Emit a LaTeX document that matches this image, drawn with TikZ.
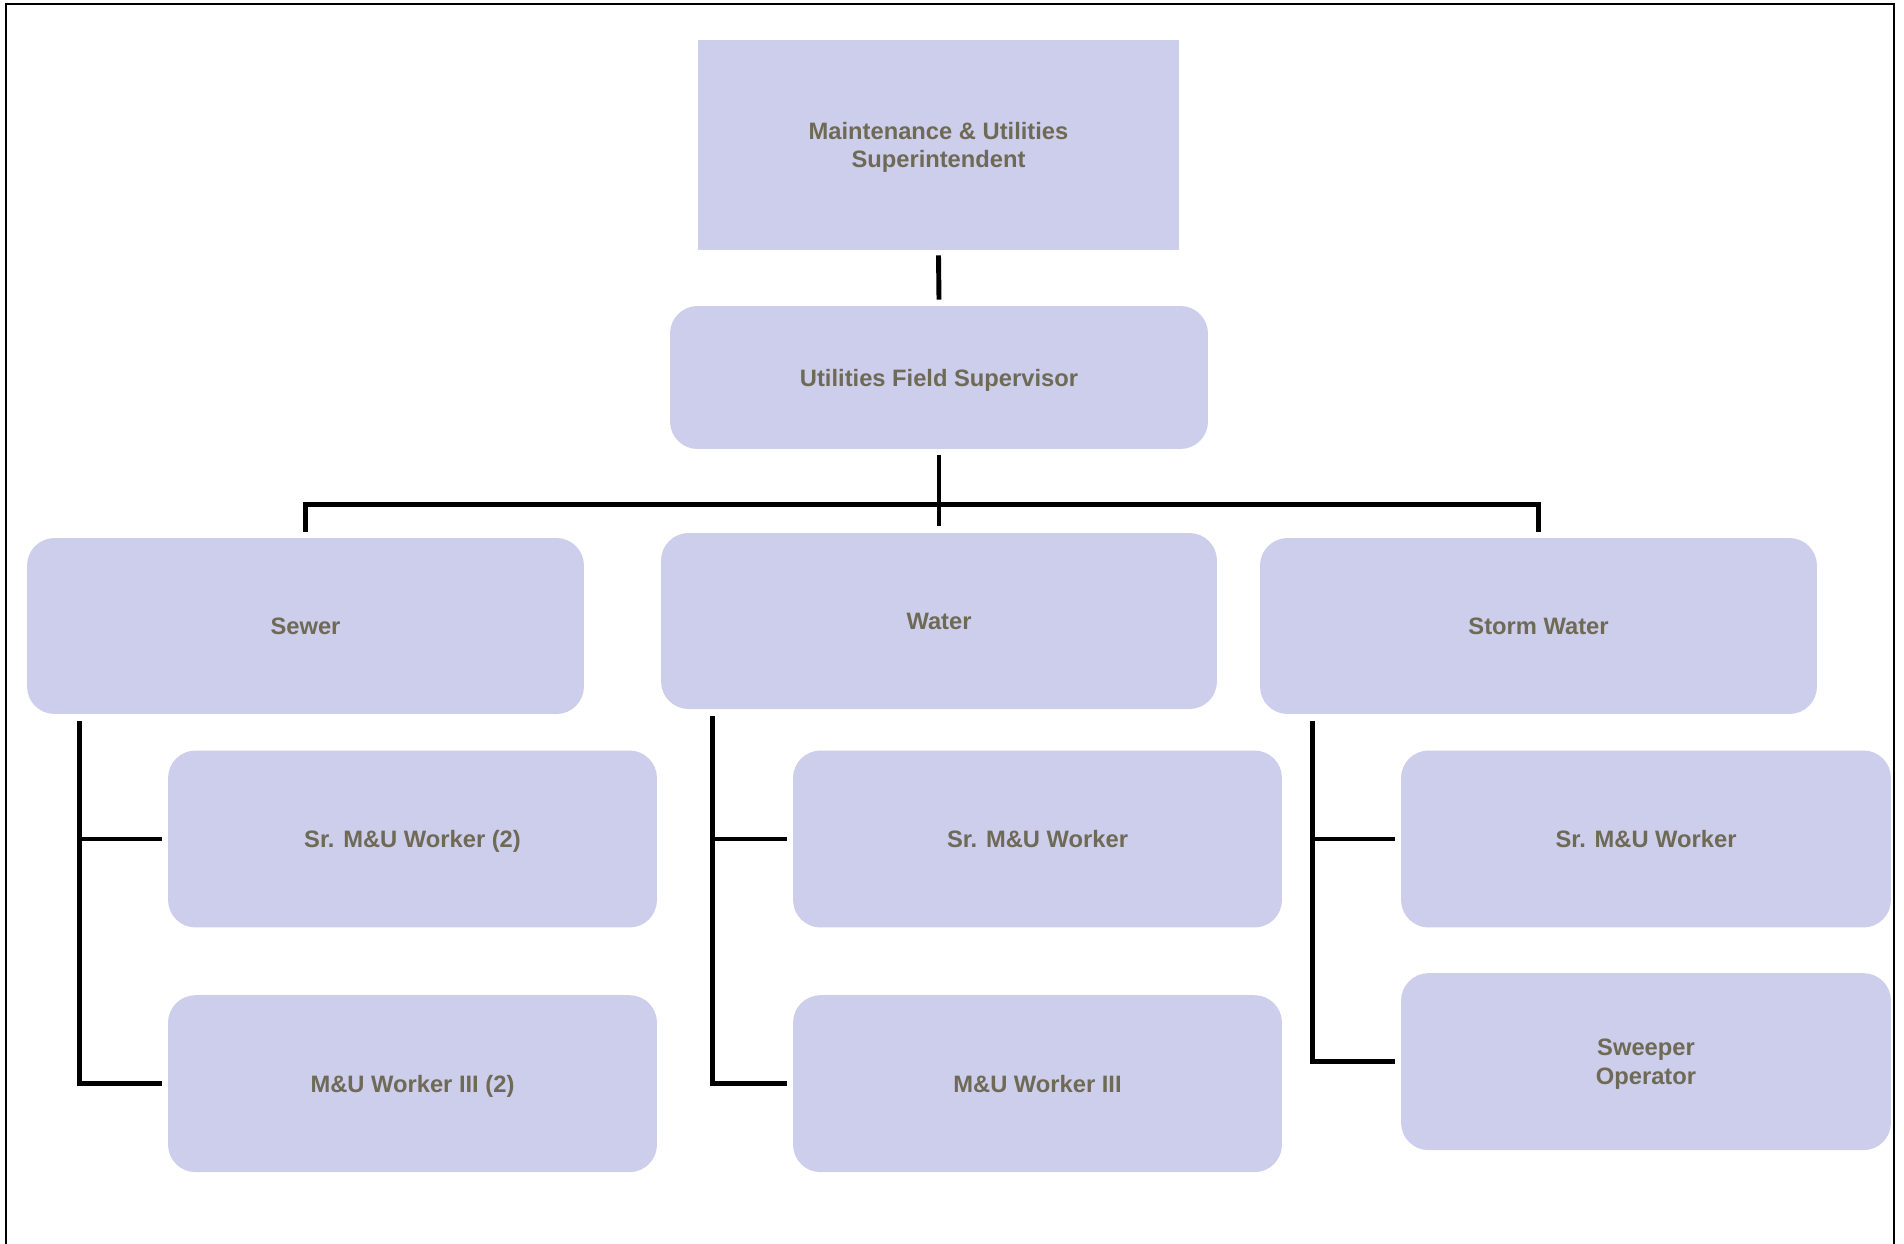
\documentclass[tikz,border=0pt]{standalone}
\usepackage{fontspec}
\setmainfont{Liberation Sans}
\usetikzlibrary{positioning}
\definecolor{boxfill}{RGB}{205,205,236}
\definecolor{boxtext}{RGB}{110,106,85}

\begin{document}
\begin{tikzpicture}[x=0.02cm,y=-0.02cm,line join=miter,
  unit/.style={fill=boxfill,text=boxtext,font=\bfseries\fontsize{13.5}{16}\selectfont,align=center,inner sep=0pt,text depth=0pt},
  rbox/.style={unit,rounded corners=0.55cm},
  worker/.style={rbox,minimum width=9.78cm,minimum height=3.54cm},
  conn/.style={line width=2.8pt,color=black}]
  \useasboundingbox (0,0) rectangle (1904,1244);
  \draw[line width=1.2pt] (6,1244) -- (6,4) -- (1894,4) -- (1894,1244);

  % head and supervisor
  \node[unit,minimum width=9.62cm,minimum height=4.2cm] (super) at (938.5,145) {Maintenance \& Utilities\\Superintendent};
  \node[rbox,minimum width=10.76cm,minimum height=2.86cm] (field) at (939,377.5) {Utilities Field Supervisor};

  % sections
  \node[rbox,minimum width=11.14cm,minimum height=3.52cm] (sewer) at (305.5,626) {Sewer};
  \node[rbox,minimum width=11.12cm,minimum height=3.52cm] (water) at (939,621) {Water};
  \node[rbox,minimum width=11.14cm,minimum height=3.52cm] (storm) at (1538.5,626) {Storm Water};

  % workers
  \node[worker] (sewsr) at (412.5,839) {Sr. M\&U Worker (2)};
  \node[worker,below=1.34cm of sewsr] (sewiii) {M\&U Worker III (2)};
  \node[worker] (watsr) at (1037.5,839) {Sr. M\&U Worker};
  \node[worker,below=1.34cm of watsr] (watiii) {M\&U Worker III};
  \node[worker,minimum width=9.8cm] (stosr) at (1646,839) {Sr. M\&U Worker};
  \node[worker,minimum width=9.8cm,below=0.9cm of stosr] (stoop) {Sweeper\\Operator};

  % top lines
  \draw[conn] ([yshift=-0.1cm]super.south) -- ([yshift=0.12cm]field.north);
  \coordinate (hub) at ([yshift=-1.1cm]field.south);
  \draw[conn] ([yshift=-0.12cm]field.south) -- ([yshift=0.14cm]water.north);
  \draw[conn] ([yshift=0.12cm]sewer.north) |- (hub) -| ([yshift=0.12cm]storm.north);

  % branch lines
  \coordinate (sewbus) at ([xshift=1.06cm,yshift=-0.14cm]sewer.south west);
  \coordinate (watbus) at ([xshift=1.04cm,yshift=-0.14cm]water.south west);
  \coordinate (stobus) at ([xshift=1.06cm,yshift=-0.14cm]storm.south west);
  \draw[conn] (sewbus) |- ([xshift=-0.12cm]sewiii.west);
  \draw[conn] (sewbus |- sewsr.west) -- ([xshift=-0.12cm]sewsr.west);
  \draw[conn] (watbus) |- ([xshift=-0.12cm]watiii.west);
  \draw[conn] (watbus |- watsr.west) -- ([xshift=-0.12cm]watsr.west);
  \draw[conn] (stobus) |- ([xshift=-0.12cm]stoop.west);
  \draw[conn] (stobus |- stosr.west) -- ([xshift=-0.12cm]stosr.west);
\end{tikzpicture}
\end{document}
